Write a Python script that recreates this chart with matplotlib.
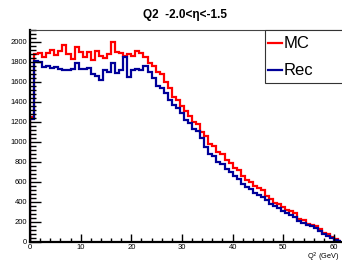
import matplotlib
matplotlib.use("Agg")
import matplotlib.pyplot as plt
import numpy as np
from matplotlib.lines import Line2D
from matplotlib.patches import Rectangle
from matplotlib.ticker import MultipleLocator

plt.rcParams["font.family"] = ["Liberation Sans", "DejaVu Sans"]

BIN_WIDTH = 0.8
N_BINS = 77

mc_counts = [
    1250, 1880, 1890, 1850, 1890, 1920, 1870, 1910, 1970, 1880,
    1830, 1950, 1900, 1850, 1900, 1820, 1910, 1860, 1840, 1880,
    2000, 1900, 1890, 1860, 1880, 1860, 1910, 1890, 1850, 1790,
    1760, 1700, 1680, 1600, 1540, 1450, 1420, 1360, 1310, 1260,
    1200, 1180, 1100, 1060, 980, 960, 900, 880, 820, 790,
    740, 720, 660, 620, 600, 560, 540, 520, 460, 430,
    390, 380, 350, 320, 310, 290, 230, 220, 180, 170,
    160, 130, 90, 80, 50, 30, 15,
]

rec_counts = [
    1230, 1810, 1800, 1750, 1760, 1740, 1750, 1730, 1720, 1720,
    1730, 1790, 1730, 1730, 1740, 1680, 1660, 1620, 1720, 1700,
    1790, 1690, 1720, 1850, 1650, 1720, 1730, 1720, 1760, 1700,
    1640, 1560, 1540, 1490, 1420, 1370, 1340, 1290, 1220, 1190,
    1130, 1110, 1040, 950, 880, 860, 800, 780, 730, 700,
    660, 630, 580, 550, 530, 490, 470, 450, 420, 380,
    360, 340, 310, 290, 270, 250, 210, 190, 170, 160,
    140, 110, 80, 60, 40, 20, 10,
]

series_labels = ["MC", "Rec"]
series_colors = ["#ff0000", "#000099"]

edges = np.arange(N_BINS + 1) * BIN_WIDTH

W, H = 342, 263
fig = plt.figure(figsize=(W / 100, H / 100), dpi=100)
ax = fig.add_axes([30 / W, 1 - 242 / H, 311 / W, 212 / H])

for counts, label, color in zip((mc_counts, rec_counts), series_labels, series_colors):
    ax.stairs(counts, edges, color=color, linewidth=1.6, label=label)

ax.set_xlim(0, 61.4)
ax.set_ylim(0, 2120)

ax.xaxis.set_major_locator(MultipleLocator(10))
ax.xaxis.set_minor_locator(MultipleLocator(2))
ax.yaxis.set_major_locator(MultipleLocator(200))
ax.yaxis.set_minor_locator(MultipleLocator(40))
ax.tick_params(which="both", direction="in", top=False, right=False, labelsize=5.5)
ax.tick_params(axis="y", which="major", length=8, width=1.0, pad=2)
ax.tick_params(axis="y", which="minor", length=4, width=1.0)
ax.tick_params(axis="x", which="major", length=6, width=1.0, pad=1.5)
ax.tick_params(axis="x", which="minor", length=3, width=1.0)

for side in ("left", "bottom"):
    ax.spines[side].set_linewidth(1.6)
ax.spines["top"].set_linewidth(0.8)
ax.spines["top"].set_color("#444444")
ax.spines["right"].set_visible(False)

fig.text(185 / W, 1 - 15 / H, "Q2  -2.0<\u03b7<-1.5", ha="center", va="center",
         fontsize=8.5, fontweight="bold")
fig.text(340 / W, 1 - 257 / H, "Q$^{2}$ (GeV)", ha="right", va="center", fontsize=5.3)

# ROOT-style legend box drawn in figure pixels
fig.patches.append(Rectangle((265 / W, 1 - 83 / H), 80 / W, 53 / H, transform=fig.transFigure,
                             facecolor="white", edgecolor="#333333", linewidth=0.8))
for i, (label, color) in enumerate(zip(series_labels, series_colors)):
    y = 1 - (43 + 27 * i) / H
    fig.lines.append(Line2D([268 / W, 282 / W], [y, y], transform=fig.transFigure,
                            color=color, linewidth=1.6))
    fig.text(284 / W, y, label, ha="left", va="center", fontsize=12)

fig.savefig("out.png", dpi=100)
